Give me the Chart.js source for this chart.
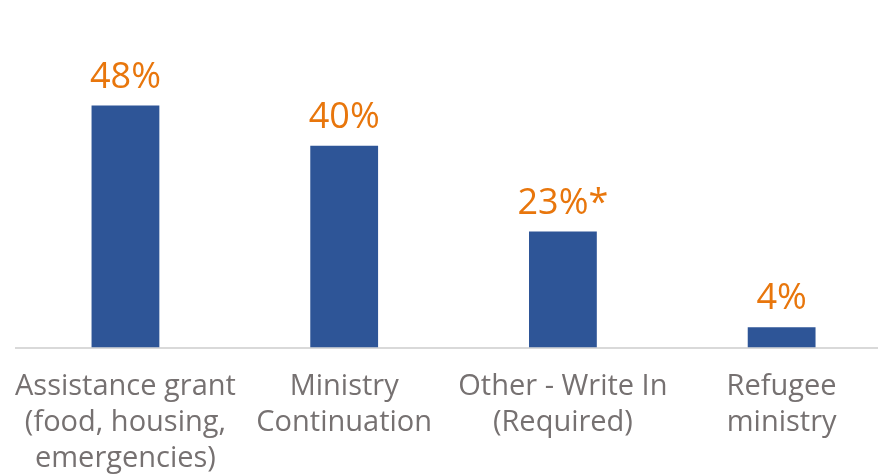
<!DOCTYPE html>
<html>
<head>
<meta charset="utf-8">
<script src="https://cdn.jsdelivr.net/npm/chart.js@4"></script>
<style>
  html, body { margin: 0; padding: 0; background: #fff; overflow: hidden; }
  #wrap { width: 891px; height: 475px; }
</style>
</head>
<body>
<div id="wrap"><canvas id="chart" width="891" height="475"></canvas></div>
<script>
const categories = [
  ['Assistance grant', '(food, housing,', 'emergencies)'],
  ['Ministry', 'Continuation'],
  ['Other - Write In', '(Required)'],
  ['Refugee', 'ministry']
];
const values = [48, 40, 23, 4];
const valueLabels = ['48%', '40%', '23%*', '4%'];

// draws the orange percentage above each bar
const barLabels = {
  id: 'barLabels',
  afterDatasetsDraw(chart) {
    const ctx = chart.ctx;
    const meta = chart.getDatasetMeta(0);
    ctx.save();
    ctx.font = '36px "Open Sans", sans-serif';
    ctx.fillStyle = '#E8760C';
    ctx.textAlign = 'center';
    ctx.textBaseline = 'alphabetic';
    meta.data.forEach((bar, i) => {
      ctx.fillText(valueLabels[i], bar.x, bar.y - 18);
    });
    ctx.restore();
  }
};

new Chart(document.getElementById('chart'), {
  type: 'bar',
  data: {
    labels: categories,
    datasets: [{
      data: values,
      backgroundColor: '#2E5597',
      barPercentage: 0.31,
      categoryPercentage: 1.0
    }]
  },
  options: {
    responsive: false,
    animation: false,
    layout: { padding: { top: 45, left: 16, right: 0, bottom: 0 } },
    plugins: { legend: { display: false }, tooltip: { enabled: false } },
    scales: {
      y: { display: false, min: 0, max: 60 },
      x: {
        grid: { display: false },
        border: { display: true, color: '#D9D9D9', width: 2 },
        ticks: {
          color: '#767171',
          font: { family: '"Open Sans", sans-serif', size: 29, lineHeight: 1.24 },
          padding: 13,
          maxRotation: 0,
          autoSkip: false
        },
        afterFit(scale) { scale.height = 475 - 347.5; }
      }
    }
  },
  plugins: [barLabels]
});
</script>
</body>
</html>
